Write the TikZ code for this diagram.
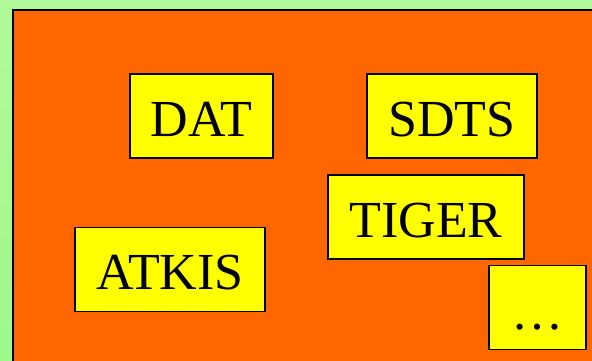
\documentclass[tikz,border=0pt]{standalone}
\usepackage{fontspec}
\setmainfont{Liberation Serif}
\usepackage{tikz}

\definecolor{bggreen}{HTML}{A8F890}
\definecolor{panelorange}{HTML}{FF6600}
\definecolor{boxyellow}{HTML}{FFFF00}

\begin{document}
\begin{tikzpicture}[x=1pt, y=1pt,
    fmt/.style={draw, fill=boxyellow, line width=1.5pt, inner sep=0pt,
        minimum height=84pt, text height=40pt, text depth=0pt,
        font=\fontsize{52}{62}\selectfont}
]
\useasboundingbox (0,0) rectangle (592,-361);
\clip (0,0) rectangle (592,-361);

% Background
\shade[top color=bggreen!90!white, bottom color=bggreen!95!green] (0,0) rectangle (592,-361);
\draw[fill=panelorange, line width=2pt] (13,-10) rectangle (620,-380);

% Formats
\node[fmt, minimum width=143pt] (dat) at (201.5,-116) {DAT};
\node[fmt, minimum width=170pt] (sdts) at (452,-116) {SDTS};
\node[fmt, minimum width=196pt] (tiger) at (426,-217) {TIGER};
\node[fmt, minimum width=190pt] (atkis) at (170,-269.5) {ATKIS};
\node[fmt, minimum width=97pt, text height=44pt] (more) at (537.5,-307.5) {\dots};

\end{tikzpicture}
\end{document}
